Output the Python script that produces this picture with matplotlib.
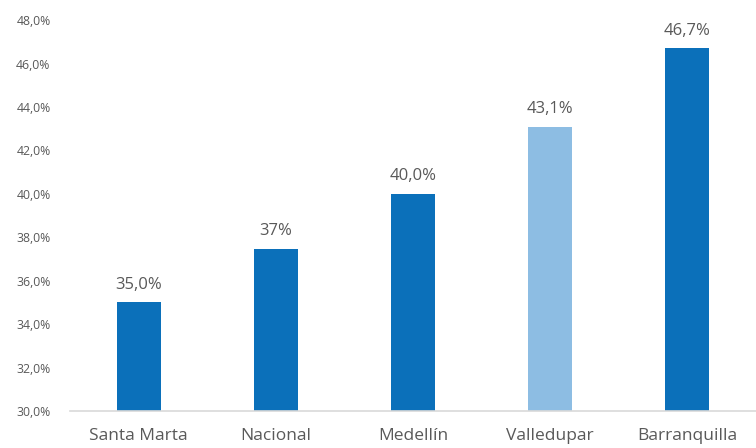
import matplotlib.pyplot as plt
from matplotlib.ticker import FuncFormatter

plt.rcParams['font.family'] = ['Open Sans', 'DejaVu Sans']

ciudades = ["Santa Marta", "Nacional", "Medellín", "Valledupar", "Barranquilla"]
valores = [35.0, 37.45, 40.0, 43.1, 46.7]
etiquetas = ["35,0%", "37%", "40,0%", "43,1%", "46,7%"]
colores = ["#0B70BA", "#0B70BA", "#0B70BA", "#8DBDE3", "#0B70BA"]

fig = plt.figure(figsize=(7.56, 4.48), dpi=100)
ax = fig.add_axes([0.0926, 0.0826, 0.9074, 0.8724])

x = range(len(ciudades))
ax.bar(x, valores, width=0.32, color=colores)
for i, v in enumerate(valores):
    ax.text(i, v + 0.45, etiquetas[i], ha="center", va="bottom", fontsize=12, color="#595959")

ax.set_ylim(30, 48)
ax.set_xlim(-0.5, len(ciudades) - 0.5)
ax.set_yticks(range(30, 49, 2))
ax.yaxis.set_major_formatter(FuncFormatter(lambda v, p: f"{v:.1f}%".replace(".", ",")))
ax.set_xticks(list(x))
ax.set_xticklabels(ciudades, fontsize=12.5, color="#595959")
ax.tick_params(axis="y", labelsize=8.8, colors="#595959", length=0, pad=14)
ax.tick_params(axis="x", length=0, pad=12)

for s in ["top", "right", "left"]:
    ax.spines[s].set_visible(False)
ax.spines["bottom"].set_color("#D9D9D9")
ax.spines["bottom"].set_linewidth(1.2)

fig.savefig("out.png", dpi=100)
